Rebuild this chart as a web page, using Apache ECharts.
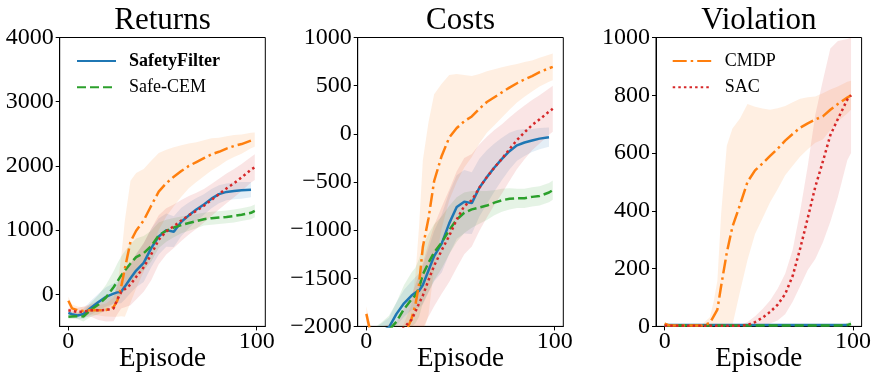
<!DOCTYPE html>
<html>
<head>
<meta charset="utf-8">
<script src="https://cdn.jsdelivr.net/npm/echarts@6/dist/echarts.min.js"></script>
<style>
html,body{margin:0;padding:0;background:#fff;}
#chart{width:877px;height:372px;}
</style>
</head>
<body>
<div id="chart"></div>
<script>
// ---------- data ----------
const EPISODES = [0,2,5,8,12,16,20,24,26,28,30,33,36,40,44,48,52,56,60,64,68,72,76,80,84,88,92,97,99];
const EP_TICKS = [0, 100];
const RET_TICKS = [0, 1000, 2000, 3000, 4000];
const COST_TICKS = [-2000, -1500, -1000, -500, 0, 500, 1000];
const VIOL_TICKS = [0, 200, 400, 600, 800, 1000];
const TITLES = ['Returns', 'Costs', 'Violation'];
const NAMES = ['SafetyFilter', 'Safe-CEM', 'CMDP', 'SAC'];

// Returns
const RET_SAFETYFILTER = [-290,-310,-330,-305,-210,-120,-40,10,30,40,120,250,370,490,720,900,1000,975,1130,1230,1320,1400,1490,1560,1595,1610,1620,1630,null];
const RET_SAFECEM = [-350,-345,-340,-345,-240,-160,-50,110,200,290,370,480,580,640,750,920,990,1040,1080,1110,1140,1170,1185,1195,1205,1220,1240,1270,1300];
const RET_CMDP = [-100,-220,-250,-260,-245,-250,-245,-200,-100,110,400,820,990,1150,1380,1600,1730,1830,1920,2000,2060,2120,2180,2220,2270,2310,2340,2395,2410];
const RET_SAC = [-250,-260,-275,-270,-250,-250,-245,-220,-80,30,80,150,270,420,620,850,980,1060,1150,1230,1300,1380,1470,1560,1650,1730,1820,1940,1980];
const RET_SAFETYFILTER_SD = [40,40,50,80,110,130,150,160,170,180,200,230,260,300,300,280,260,240,220,200,180,160,150,140,130,130,130,120,null];
const RET_SAFECEM_SD = [40,40,50,80,110,150,200,250,280,300,300,300,290,270,240,200,170,150,130,120,110,100,100,100,100,100,100,100,100];
const RET_CMDP_SD = [60,60,60,60,70,80,100,150,250,450,750,950,900,800,700,600,520,460,400,350,310,280,250,220,190,170,150,120,110];
const RET_SAC_SD = [40,50,60,80,100,150,180,200,230,250,280,320,350,380,400,380,360,340,320,300,280,260,250,240,230,220,210,200,200];

// Costs
const COST_SAFETYFILTER = [-2050,-2060,-2070,-2050,-2010,-1870,-1760,-1680,-1650,-1630,-1570,-1420,-1270,-1140,-930,-760,-705,-720,-560,-450,-350,-260,-180,-120,-90,-70,-50,-35,null];
const COST_SAFECEM = [-2100,-2100,-2100,-2080,-2040,-1950,-1820,-1720,-1680,-1600,-1460,-1340,-1230,-1130,-1000,-890,-820,-785,-765,-745,-715,-690,-675,-670,-670,-655,-645,-610,-585];
const COST_CMDP = [-1870,-2050,-2150,-2200,-2200,-2200,-2100,-1920,-1780,-1560,-1175,-880,-490,-230,-40,60,130,180,260,330,380,430,480,525,565,600,640,680,695];
const COST_SAC = [-2100,-2100,-2100,-2100,-2100,-2100,-2010,-1930,-1850,-1760,-1680,-1520,-1370,-1210,-1060,-890,-750,-690,-560,-450,-350,-260,-160,-65,15,90,150,230,260];
const COST_SAFETYFILTER_SD = [60,60,60,80,100,120,140,150,160,180,200,230,260,300,320,330,330,320,300,280,250,220,190,160,140,120,110,100,null];
const COST_SAFECEM_SD = [100,100,100,120,150,200,250,280,290,300,300,300,290,270,250,230,210,190,170,150,130,120,110,100,100,100,100,100,100];
const COST_CMDP_SD = [80,80,80,80,100,120,130,150,300,600,900,1000,900,750,650,560,480,420,360,320,290,260,230,200,180,160,150,140,140];
const COST_SAC_SD = [100,100,100,100,120,150,200,250,280,300,340,380,420,450,480,500,500,480,450,420,390,360,330,300,280,260,250,240,240];

// Violation
const VIOL_SAFETYFILTER = [5,5,5,5,5,5,5,5,5,5,5,5,5,5,5,5,5,5,5,5,5,5,5,5,5,5,5,5,null];
const VIOL_SAFECEM = [3,3,3,3,3,3,3,3,3,3,3,3,3,3,3,3,3,3,3,3,3,3,3,3,3,3,3,5,8];
const VIOL_CMDP = [10,4,3,3,3,3,3,12,35,58,140,255,345,420,500,540,564,590,615,643,666,688,703,716,727,750,770,792,800];
const VIOL_SAC = [2,2,2,2,2,2,2,2,2,2,2,2,2,2,5,15,30,50,75,112,175,270,375,483,570,662,718,785,800];
const VIOL_SAFETYFILTER_SD = [3,3,3,3,3,3,3,3,3,3,3,3,3,3,3,3,3,3,3,3,3,3,3,3,3,3,3,3,null];
const VIOL_SAFECEM_SD = [3,3,3,3,3,3,3,3,3,3,3,3,3,3,3,3,3,3,3,3,3,3,3,3,3,3,3,6,12];
const VIOL_CMDP_SD = [5,5,5,5,5,5,5,20,50,100,250,370,340,300,270,220,190,160,140,120,110,100,90,80,80,70,60,55,50];
const VIOL_SAC_SD = [2,2,2,2,2,2,2,2,2,2,2,2,2,3,10,20,30,40,55,70,90,130,180,250,280,300,270,210,200];

// ---------- styling ----------
const FONT = "'Liberation Serif', 'DejaVu Serif', serif";
const STYLE = {
  'SafetyFilter': {color: '#1f77b4', band: 'rgba(31,119,180,0.12)', type: 'solid'},
  'Safe-CEM': {color: '#2ca02c', band: 'rgba(44,160,44,0.12)', type: [9, 4]},
  'CMDP': {color: '#ff7f0e', band: 'rgba(255,127,14,0.12)', type: [14, 4, 2.5, 4]},
  'SAC': {color: '#d62728', band: 'rgba(214,39,40,0.12)', type: [2.5, 3.1]}
};
const PANELS = [
  {means: [RET_SAFETYFILTER, RET_SAFECEM, RET_CMDP, RET_SAC], sds: [RET_SAFETYFILTER_SD, RET_SAFECEM_SD, RET_CMDP_SD, RET_SAC_SD], ticks: RET_TICKS, min: -500, max: 4000},
  {means: [COST_SAFETYFILTER, COST_SAFECEM, COST_CMDP, COST_SAC], sds: [COST_SAFETYFILTER_SD, COST_SAFECEM_SD, COST_CMDP_SD, COST_SAC_SD], ticks: COST_TICKS, min: -2000, max: 1000},
  {means: [VIOL_SAFETYFILTER, VIOL_SAFECEM, VIOL_CMDP, VIOL_SAC], sds: [VIOL_SAFETYFILTER_SD, VIOL_SAFECEM_SD, VIOL_CMDP_SD, VIOL_SAC_SD], ticks: VIOL_TICKS, min: 0, max: 1000}
];
const GRID_LEFT = [59.7, 357.7, 656];
const GRID_W = 205.6, GRID_TOP = 37.5, GRID_H = 288.9;

const fmt = v => v < 0 ? '\u2212' + Math.abs(v) : String(v);

const grids = [], xAxes = [], yAxes = [], titles = [], series = [];
PANELS.forEach((p, gi) => {
  grids.push({left: GRID_LEFT[gi], top: GRID_TOP, width: GRID_W, height: GRID_H, show: true,
    borderColor: '#000', borderWidth: 1, backgroundColor: 'transparent',
    containLabel: false, outerBoundsMode: 'none'});
  xAxes.push({
    type: 'value', gridIndex: gi, min: -4.6, max: 104.6,
    axisLine: {show: true, onZero: false, lineStyle: {color: '#000', width: 1}},
    axisTick: {show: true, length: 4, lineStyle: {color: '#000'}, customValues: EP_TICKS},
    axisLabel: {customValues: EP_TICKS, color: '#000', fontSize: 24, fontFamily: FONT, margin: 3},
    splitLine: {show: false},
    name: 'Episode', nameLocation: 'middle', nameGap: 19, nameMoveOverlap: false,
    nameTextStyle: {color: '#000', fontSize: 27, fontFamily: FONT}
  });
  yAxes.push({
    type: 'value', gridIndex: gi, min: p.min, max: p.max,
    axisLine: {show: true, onZero: false, lineStyle: {color: '#000', width: 1}},
    axisTick: {show: true, length: 4, lineStyle: {color: '#000'}, customValues: p.ticks},
    axisLabel: {customValues: p.ticks, color: '#000', fontSize: 24, fontFamily: FONT, margin: 6, formatter: fmt},
    splitLine: {show: false}
  });
  titles.push({text: TITLES[gi], left: GRID_LEFT[gi] + GRID_W / 2, top: 5, textAlign: 'center', padding: 0,
    textStyle: {color: '#000', fontSize: 31, fontWeight: 'normal', fontFamily: FONT}});
  // shaded bands (mean ± spread), drawn as one polygon per method through the axis scales
  NAMES.forEach((name, k) => {
    const m = p.means[k], s = p.sds[k], st = STYLE[name];
    series.push({
      type: 'custom', xAxisIndex: gi, yAxisIndex: gi, silent: true, z: 1, animation: false,
      data: EPISODES.map((e, i) => [e, m[i] == null ? null : m[i] - s[i], m[i] == null ? null : m[i] + s[i]]),
      encode: {x: 0, y: [1, 2]},
      renderItem: (params, api) => {
        if (params.dataIndex !== 0) return null;
        const up = [], dn = [];
        EPISODES.forEach((e, i) => {
          if (m[i] == null) return;
          up.push(api.coord([e, m[i] + s[i]]));
          dn.push(api.coord([e, m[i] - s[i]]));
        });
        const cs = params.coordSys;
        return {
          type: 'polygon', shape: {points: up.concat(dn.reverse())},
          style: {fill: st.band, stroke: null},
          clipPath: {type: 'rect', shape: {x: cs.x, y: cs.y, width: cs.width, height: cs.height}}
        };
      }
    });
  });
  // mean lines
  NAMES.forEach((name, k) => {
    const m = p.means[k], st = STYLE[name];
    series.push({
      type: 'line', name: name, xAxisIndex: gi, yAxisIndex: gi,
      data: EPISODES.map((e, i) => [e, m[i]]),
      symbol: 'none', itemStyle: {color: st.color},
      lineStyle: {color: st.color, width: 2.5, type: st.type, cap: 'butt'},
      silent: true, z: 3, animation: false
    });
  });
});

const legendBase = {
  orient: 'vertical', top: 51, itemWidth: 39, itemHeight: 14, itemGap: 6.3, padding: 0,
  selectedMode: false,
  itemStyle: {opacity: 0, borderWidth: 0},
  textStyle: {fontSize: 18, fontFamily: FONT, color: '#000', lineHeight: 20, padding: [0, 0, 0, 8]}
};

const chart = echarts.init(document.getElementById('chart'), null, {renderer: 'canvas'});
chart.setOption({
  backgroundColor: '#fff',
  animation: false,
  title: titles,
  grid: grids,
  xAxis: xAxes,
  yAxis: yAxes,
  legend: [
    Object.assign({}, legendBase, {left: 76, data: [{name: 'SafetyFilter', textStyle: {fontWeight: 'bold'}}, {name: 'Safe-CEM'}]}),
    Object.assign({}, legendBase, {left: 671.7, data: [{name: 'CMDP'}, {name: 'SAC'}]})
  ],
  series: series
});
</script>
</body>
</html>
